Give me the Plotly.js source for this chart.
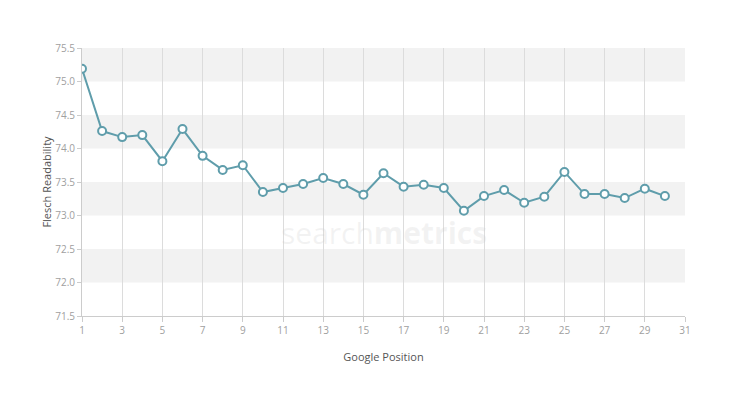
<!DOCTYPE html>
<html><head><meta charset="utf-8">
<script src="https://cdn.plot.ly/plotly-3.0.1.min.js"></script>
<style>html,body{margin:0;padding:0;background:#fff}#c{width:738px;height:402px}</style>
</head><body><div id="c"></div>
<script>
const positions = [1,2,3,4,5,6,7,8,9,10,11,12,13,14,15,16,17,18,19,20,21,22,23,24,25,26,27,28,29,30];
const readability = [75.19,74.26,74.17,74.20,73.81,74.29,73.89,73.68,73.75,73.35,73.41,73.47,73.56,73.47,73.31,73.63,73.43,73.46,73.41,73.07,73.29,73.38,73.19,73.28,73.65,73.32,73.32,73.26,73.40,73.29];
const xTicks = [1,3,5,7,9,11,13,15,17,19,21,23,25,27,29,31];
const yTicks = [71.5,72.0,72.5,73.0,73.5,74.0,74.5,75.0,75.5];
const bands = [[75.0,75.5],[74.0,74.5],[73.0,73.5],[72.0,72.5]];

const shapes = bands.map(b => ({type:'rect', xref:'paper', yref:'y', x0:0, x1:1, y0:b[0], y1:b[1],
  fillcolor:'#f2f2f2', line:{width:0}, layer:'below'}));

Plotly.newPlot('c', [{
  x: positions, y: readability, type:'scatter', mode:'lines+markers',
  line:{color:'#5f9dab', width:2},
  marker:{size:8, color:'#ffffff', line:{color:'#5f9dab', width:2}}
}], {
  width:738, height:402,
  margin:{l:82, r:53, t:48, b:86},
  paper_bgcolor:'#fff', plot_bgcolor:'rgba(0,0,0,0)',
  font:{family:'Open Sans, sans-serif'},
  showlegend:false,
  shapes: shapes,
  annotations:[{x:0.5, y:0.31, xref:'paper', yref:'paper', xanchor:'center', yanchor:'middle',
    text:'search<b>metrics</b>', showarrow:false,
    font:{size:30, color:'rgba(200,200,200,0.22)', family:'Open Sans, sans-serif'}}],
  xaxis:{range:[1,31], tickvals:xTicks, ticktext:xTicks.map(String), showgrid:true, gridcolor:'#dcdcdc', gridwidth:1,
    zeroline:false, showline:true, linecolor:'#cccccc', ticks:'outside', ticklen:5, tickcolor:'#cccccc',
    tickfont:{size:10, color:'#a0a0a0'},
    title:{text:'Google Position', font:{size:11, color:'#555555'}, standoff:17}},
  yaxis:{range:[71.5,75.5], tickvals:yTicks, ticktext:yTicks.map(v=>v.toFixed(1)), showgrid:false,
    zeroline:false, showline:true, linecolor:'#cccccc', ticks:'outside', ticklen:4, tickcolor:'#cccccc',
    tickfont:{size:10, color:'#a0a0a0'},
    title:{text:'Flesch Readability', font:{size:11, color:'#555555'}, standoff:1}}
}, {displayModeBar:false, staticPlot:true});
</script></body></html>
